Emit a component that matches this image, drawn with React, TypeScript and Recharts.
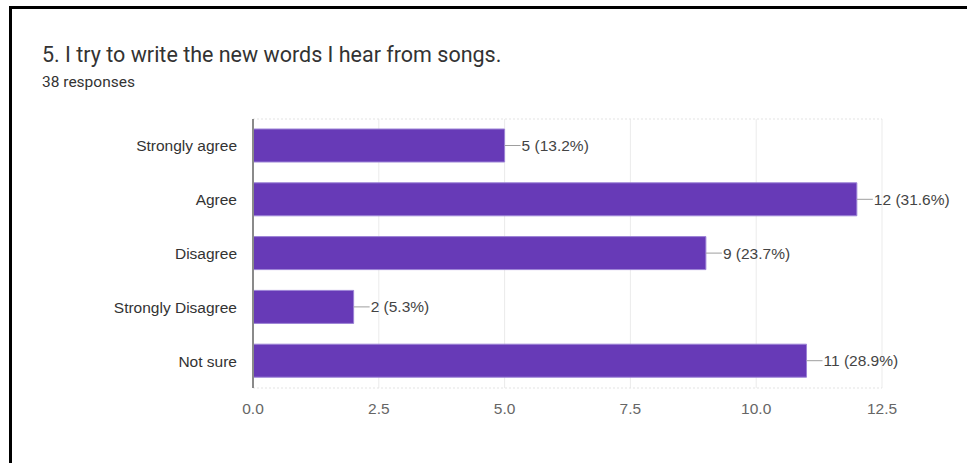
import { BarChart, Bar, XAxis, YAxis, CartesianGrid } from 'recharts'

const answers = ['Strongly agree', 'Agree', 'Disagree', 'Strongly Disagree', 'Not sure']
const counts = [5, 12, 9, 2, 11]
const percents = ['13.2%', '31.6%', '23.7%', '5.3%', '28.9%']
const xTicks = [0, 2.5, 5, 7.5, 10, 12.5]

const data = answers.map((answer, i) => ({ answer, count: counts[i], pct: percents[i] }))

const sans = "'Liberation Sans', Arial, sans-serif"

const BarLabel = (props: any) => {
  const { x, y, width, height, index } = props
  const endX = x + width
  const midY = y + height / 2
  return (
    <g>
      <line x1={endX} y1={midY} x2={endX + 16} y2={midY} stroke="#9e9e9e" strokeWidth={1} />
      <text x={endX + 17} y={midY} dy="0.36em" fontSize={15.5} fill="#444" fontFamily={sans}>
        {`${counts[index]} (${percents[index]})`}
      </text>
    </g>
  )
}

export default function App() {
  return (
    <div
      style={{
        position: 'absolute',
        left: 0,
        top: 0,
        width: 967,
        height: 463,
        background: '#fff',
        overflow: 'hidden',
      }}
    >
      <div
        style={{
          position: 'absolute',
          left: 9,
          top: 6,
          width: 958,
          height: 457,
          borderTop: '3px solid #000',
          borderLeft: '3px solid #000',
          boxSizing: 'border-box',
        }}
      />
      <div
        style={{
          position: 'absolute',
          left: 42,
          top: 42,
          fontFamily: 'Roboto, sans-serif',
          fontSize: 21.5,
          color: '#333',
          whiteSpace: 'nowrap',
        }}
      >
        5. I try to write the new words I hear from songs.
      </div>
      <div
        style={{
          position: 'absolute',
          left: 42,
          top: 73,
          fontFamily: 'Roboto, sans-serif',
          fontSize: 15.5,
          color: '#333',
        }}
      >
        38 responses
      </div>
      <div style={{ position: 'absolute', left: 0, top: 0 }}>
        <BarChart
          width={967}
          height={463}
          data={data}
          layout="vertical"
          margin={{ top: 119, right: 85, bottom: 45, left: 0 }}
        >
          <CartesianGrid horizontal={false} stroke="#ebebeb" />
          <CartesianGrid
            vertical={false}
            stroke="#e3e3e3"
            strokeDasharray="2 2"
            horizontalCoordinatesGenerator={(p: any) => [p.offset.top, p.offset.top + p.offset.height]}
          />
          <XAxis
            type="number"
            domain={[0, 12.5]}
            ticks={xTicks}
            tickFormatter={(v: number) => v.toFixed(1)}
            axisLine={false}
            tickLine={false}
            tickMargin={9}
            height={30}
            tick={{ fontSize: 15.5, fill: '#666', fontFamily: sans }}
          />
          <YAxis
            type="category"
            dataKey="answer"
            width={253}
            axisLine={{ stroke: '#8a8a8a', strokeWidth: 2 }}
            tickLine={false}
            tickSize={0}
            tickMargin={16}
            tick={{ fontSize: 15.5, fill: '#333', fontFamily: sans }}
          />
          <Bar
            dataKey="count"
            fill="#673ab7"
            stroke="#9c83d6"
            strokeWidth={1}
            barSize={33}
            isAnimationActive={false}
            label={<BarLabel />}
          />
        </BarChart>
      </div>
    </div>
  )
}
